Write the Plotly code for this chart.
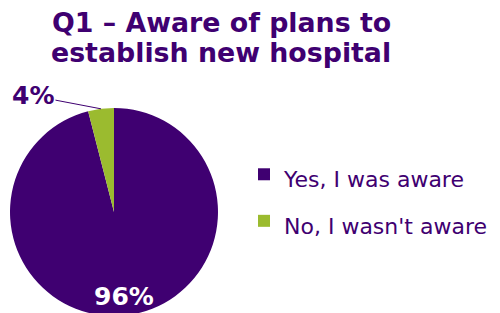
import math
import plotly.graph_objects as go

categories = ["Yes, I was aware", "No, I wasn't aware"]
values = [96, 4]
colors = ["#3F0071", "#9BBB2F"]
title_lines = ["Q1 – Aware of plans to", "establish new hospital"]

W, H = 500, 313
dom_x = [0.004, 0.42]
dom_y = [0.016, 0.6805]

fig = go.Figure(go.Pie(
    labels=[f"<span style='font-size:22px'>{c}</span>" for c in categories],
    values=values,
    marker=dict(colors=colors, line=dict(width=0)),
    sort=False,
    direction="clockwise",
    rotation=0,
    textinfo="none",
    domain=dict(x=dom_x, y=dom_y),
    showlegend=True,
    hoverinfo="skip",
))

# pie geometry (pixels in figure) derived from the domain
cx = (dom_x[0] + dom_x[1]) / 2 * W
cy = H - (dom_y[0] + dom_y[1]) / 2 * H
r = min((dom_x[1] - dom_x[0]) * W, (dom_y[1] - dom_y[0]) * H) / 2
total = sum(values)

annotations = []
for k, (line, ypx) in enumerate(zip(title_lines, [15, 45])):
    annotations.append(dict(text=f"<b>{line}</b>", x=213 / W, y=1 - ypx / H, xref="paper", yref="paper",
                            xanchor="center", yanchor="middle", showarrow=False,
                            font=dict(family="DejaVu Sans", size=26.8, color="#3F0071")))

start = 0.0
for i, v in enumerate(values):
    mid = (start + v / 2) / total * 2 * math.pi
    start += v
    if i == 0:
        px = cx + 0.8 * r * math.sin(mid)
        py = cy - 0.82 * r * math.cos(mid)
        annotations.append(dict(text=f"<b>{v}%</b>", x=px / W, y=1 - py / H, xref="paper", yref="paper",
                                showarrow=False, xanchor="center", yanchor="middle",
                                font=dict(family="DejaVu Sans", size=25, color="white")))
    else:
        tx = cx + r * math.sin(mid)
        ty = cy - r * math.cos(mid)
        annotations.append(dict(text=f"<b>{v}%</b>", x=tx / W, y=1 - ty / H, xref="paper", yref="paper",
                                showarrow=True, arrowhead=0, arrowwidth=1, arrowcolor="#3F0071",
                                ax=-68, ay=-13, standoff=0,
                                font=dict(family="DejaVu Sans", size=25, color="#3F0071")))

fig.update_layout(
    width=W, height=H,
    margin=dict(l=0, r=0, t=0, b=0),
    paper_bgcolor="white",
    plot_bgcolor="white",
    annotations=annotations,
    legend=dict(
        x=0.472, y=(H - 190) / H, xanchor="left", yanchor="middle",
        font=dict(family="DejaVu Sans", size=33.5, color="#3F0071"),
        bgcolor="rgba(0,0,0,0)",
    ),
)

fig.write_html("out.html")
